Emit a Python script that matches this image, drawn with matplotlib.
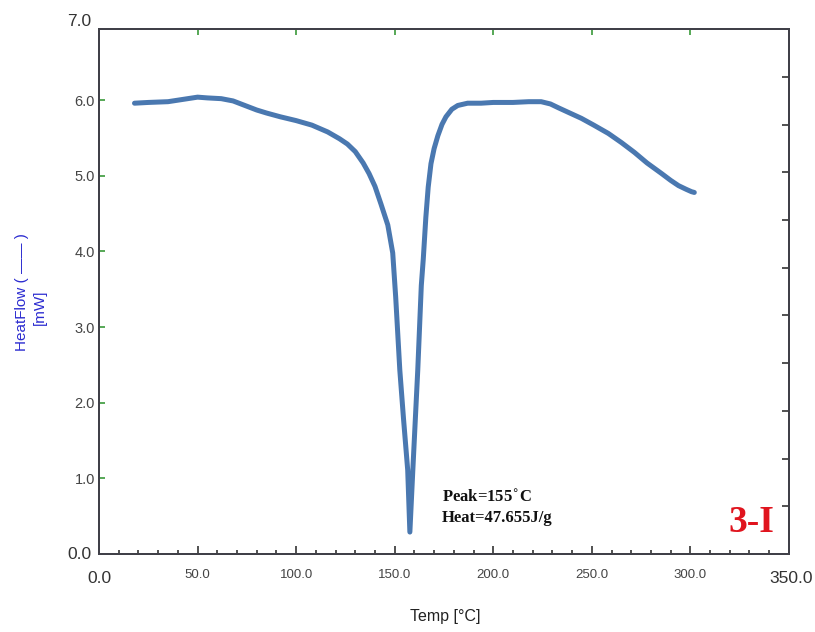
import numpy as np
import matplotlib
matplotlib.use("Agg")
import matplotlib.pyplot as plt

# data
temp = [18, 25, 35, 45, 50, 55, 62, 68, 73, 80, 85, 92, 100, 108, 116, 122,
        126, 130, 134, 137, 140, 143, 146.5, 149, 150.5, 152.6, 154.5, 156.6,
        157.7, 159.2, 160.5, 161.7, 163.5, 164.5, 165.8, 167, 168.4, 170,
        171.9, 174, 176, 179, 182, 187, 193.8, 200, 210, 218, 224.3, 229, 233,
        238, 244.7, 251, 258.4, 265, 271.6, 278, 285.4, 290, 294, 298, 300.6, 302]
heat = [5.96, 5.97, 5.98, 6.02, 6.04, 6.03, 6.02, 5.99, 5.94, 5.87, 5.83, 5.78,
        5.73, 5.67, 5.58, 5.49, 5.42, 5.32, 5.17, 5.03, 4.86, 4.63, 4.35, 3.98,
        3.4, 2.43, 1.78, 1.11, 0.29, 1.11, 1.8, 2.43, 3.55, 3.9, 4.45, 4.85,
        5.16, 5.36, 5.53, 5.68, 5.78, 5.88, 5.93, 5.96, 5.96, 5.97, 5.97, 5.98,
        5.98, 5.95, 5.9, 5.84, 5.76, 5.67, 5.56, 5.44, 5.31, 5.17, 5.03, 4.94,
        4.87, 4.82, 4.79, 4.78]

x_ticks = [50, 100, 150, 200, 250, 300]
y_ticks = [1, 2, 3, 4, 5, 6]

fig = plt.figure(figsize=(8.15, 6.32), dpi=100)
ax = fig.add_axes([0.1215, 0.1234, 0.8465, 0.8306])

ax.plot(temp, heat, color='#4a78b0', lw=3.6, solid_capstyle='round', solid_joinstyle='round')

ytop = 6.94
ax.set_xlim(0, 350)
ax.set_ylim(0, ytop)

for s in ax.spines.values():
    s.set_color('#404048')
    s.set_linewidth(1.3)

ax.set_xticks(x_ticks)
ax.set_xticklabels(['%.1f' % v for v in x_ticks], fontsize=9.5, color='#444444',
                   family='Liberation Sans')
ax.set_xticks(np.arange(10, 350, 10), minor=True)
ax.tick_params(axis='x', which='major', direction='in', length=6, width=1.2,
               color='#333333', pad=11)
ax.tick_params(axis='x', which='minor', direction='in', length=3, width=1.2,
               color='#333333')

ax.set_yticks(y_ticks)
ax.set_yticklabels(['%.1f' % v for v in y_ticks], fontsize=10.5, color='#444444',
                   family='Liberation Sans')
ax.tick_params(axis='y', direction='in', length=4, width=1.2, color='#3a9a3a', pad=3)

# corner labels drawn larger
ax.text(-4, ytop + 0.1, '7.0', ha='right', va='center', fontsize=12.5,
        color='#333333', family='Liberation Sans', clip_on=False)
ax.text(-4, 0.0, '0.0', ha='right', va='center', fontsize=12.5,
        color='#333333', family='Liberation Sans', clip_on=False)
ax.text(0, -0.32, '0.0', ha='center', va='center', fontsize=12.5,
        color='#333333', family='Liberation Sans', clip_on=False)
ax.text(351, -0.32, '350.0', ha='center', va='center', fontsize=12.5,
        color='#333333', family='Liberation Sans', clip_on=False)

# top ticks (green)
axt = ax.twiny()
axt.set_xlim(0, 350)
axt.set_xticks(x_ticks)
axt.set_xticklabels([])
axt.tick_params(axis='x', direction='in', length=4, width=1.2, color='#3a9a3a')

# right ticks (secondary scale, unlabeled)
axr = ax.twinx()
axr.set_ylim(0, 11)
axr.set_yticks(range(1, 11))
axr.set_yticklabels([])
axr.tick_params(axis='y', direction='in', length=5, width=1.2, color='#333333')
for a in (axt, axr):
    for s in a.spines.values():
        s.set_color('#404048')
        s.set_linewidth(1.3)

# axis titles
fig.text(22 / 815, 1 - 292 / 632, 'HeatFlow ( \u2014\u2014 )', rotation=90,
         ha='center', va='center', fontsize=11, color='#2b2bd0', family='Liberation Sans')
fig.text(40 / 815, 1 - 307 / 632, '[mW]', rotation=90,
         ha='center', va='center', fontsize=11, color='#2b2bd0', family='Liberation Sans')
fig.text(445 / 815, 1 - 617 / 632, 'Temp [\u00b0C]', ha='center', va='center',
         fontsize=11.5, color='#222222', family='Liberation Sans')

# annotations
ax.text(174, 0.75, 'Peak=155$^{\\circ}$C', ha='left', va='center', fontsize=12,
        fontweight='bold', family='Liberation Serif', color='#111111')
ax.text(174, 0.48, 'Heat=47.655J/g', ha='left', va='center', fontsize=12,
        fontweight='bold', family='Liberation Serif', color='#111111')
ax.text(331, 0.41, '3-I', ha='center', va='center', fontsize=27,
        fontweight='bold', family='Liberation Serif', color='#e0141e')

fig.savefig('out.png', dpi=100)
